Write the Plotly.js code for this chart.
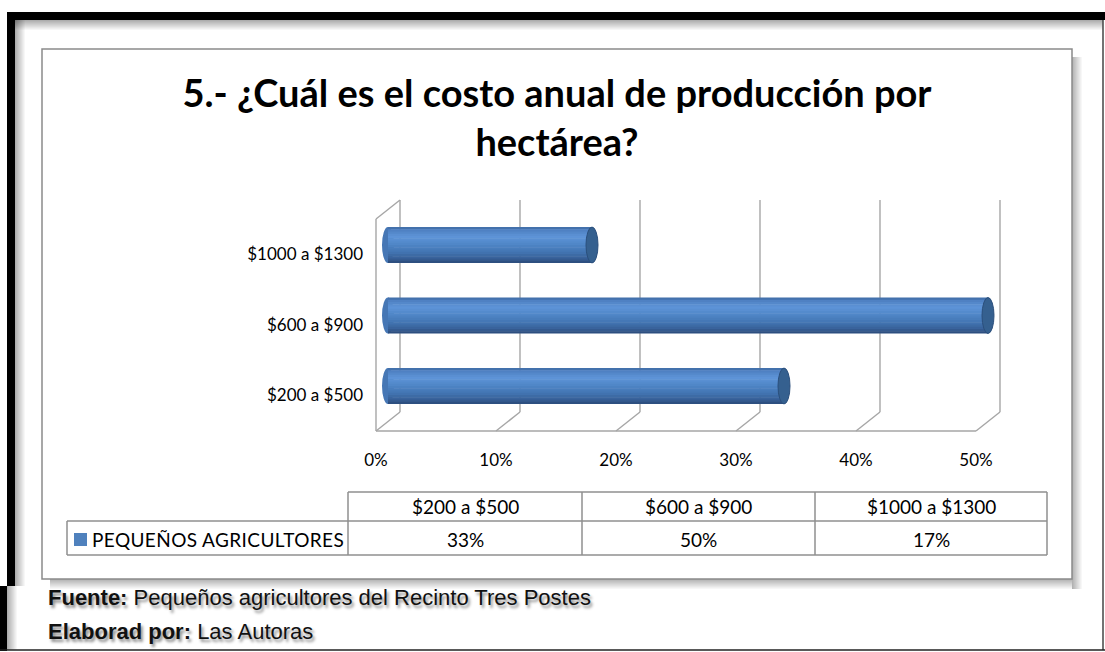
<!DOCTYPE html>
<html>
<head>
<meta charset="utf-8">
<script src="https://cdn.plot.ly/plotly-3.0.1.min.js"></script>
<style>html,body{margin:0;padding:0;background:#fff;}#chart{width:1105px;height:652px;}</style>
</head>
<body>
<div id="chart"></div>
<script>
// ---- data ----
const categories = ['$200 a $500', '$600 a $900', '$1000 a $1300'];
const seriesName = 'PEQUEÑOS AGRICULTORES';
const values = [33, 50, 17];
const xTickVals = [0, 10, 20, 30, 40, 50];
const xTickText = ['0%', '10%', '20%', '30%', '40%', '50%'];
const titleText = '5.- ¿Cuál es el costo anual de producción por<br>hectárea?';
const sourceText = '<b>Fuente:</b> Pequeños agricultores del Recinto Tres Postes';
const authorText = '<b>Elaborad por:</b> Las Autoras';

// ---- layout helpers ----
const W = 1105, H = 652;
const px = x => x / W;
const py = y => 1 - y / H;
const CAL = 'Lato, "Open Sans", sans-serif';
const ARIAL = '"Liberation Sans", Arial, sans-serif';
const GRID = '#a6a6a6';
const BACK_TOP = 200, BACK_BOT = 412, DX = 24, DY = 19;

// cylinder shading: colour stops across the bar thickness (0 = top edge, 1 = bottom edge)
const BAR_W = 0.51;
const stops = [
  [0.00, [59, 101, 156]],
  [0.07, [77, 127, 192]],
  [0.27, [94, 148, 216]],
  [0.47, [80, 135, 200]],
  [0.70, [66, 116, 178]],
  [0.88, [55, 95, 150]],
  [1.00, [42, 74, 120]]
];
function shade(f) {
  for (let k = 1; k < stops.length; k++) {
    if (f <= stops[k][0]) {
      const [f0, c0] = stops[k - 1], [f1, c1] = stops[k];
      const u = (f - f0) / (f1 - f0);
      return 'rgb(' + c0.map((v, j) => Math.round(v + (c1[j] - v) * u)).join(',') + ')';
    }
  }
  return 'rgb(' + stops[stops.length - 1][1].join(',') + ')';
}
const NB = 16;
const traces = [];
for (let b = 0; b < NB; b++) {
  const fTop = b / NB, fMid = (b + 0.5) / NB;
  const top = BAR_W / 2 - fTop * BAR_W;
  const h = BAR_W / NB + (b < NB - 1 ? 0.006 : 0);
  traces.push({
    type: 'bar', orientation: 'h',
    x: values, y: categories,
    xaxis: 'x2', yaxis: 'y2',
    width: h, offset: top - h,
    marker: {color: shade(fMid), line: {width: 0}},
    showlegend: false, hoverinfo: 'skip'
  });
}

const shapes = [];
function rectPx(x0, y0, x1, y1, fill, opts) {
  shapes.push(Object.assign({type: 'rect', xref: 'paper', yref: 'paper',
    x0: px(x0), x1: px(x1), y0: py(y0), y1: py(y1),
    fillcolor: fill, line: {width: 0}, layer: 'below'}, opts || {}));
}
function linePx(x0, y0, x1, y1, color, width, layer) {
  shapes.push({type: 'line', xref: 'paper', yref: 'paper',
    x0: px(x0), x1: px(x1), y0: py(y0), y1: py(y1),
    line: {color: color, width: width}, layer: layer || 'above'});
}

// outer frame inner shadows
for (let k = 0; k < 10; k++) {
  const a = 0.32 * (1 - k / 10);
  rectPx(15, 20 + k, 1103, 21 + k, 'rgba(0,0,0,' + a.toFixed(3) + ')');
  rectPx(15 + k, 20, 16 + k, 586, 'rgba(0,0,0,' + a.toFixed(3) + ')');
  rectPx(7 + k, 586, 8 + k, 650, 'rgba(0,0,0,' + a.toFixed(3) + ')');
}
// outer frame
rectPx(7, 12, 1105, 20, '#000');
rectPx(7, 12, 15, 586, '#000');
rectPx(0, 586, 7, 651, '#000');
linePx(1103, 20, 1103, 650, '#444', 1.5, 'below');
linePx(0, 650, 1105, 650, '#222', 1.5, 'below');

// chart box shadow + box
for (let k = 0; k < 10; k++) {
  const a = 0.30 * (1 - k / 10);
  rectPx(1072 + k, 57, 1073 + k, 589, 'rgba(0,0,0,' + a.toFixed(3) + ')');
  rectPx(50, 579 + k, 1072, 580 + k, 'rgba(0,0,0,' + a.toFixed(3) + ')');
}
rectPx(42, 49, 1072, 579, '#fff', {line: {color: '#8a8a8a', width: 1.5}});

// 3D walls: back wall verticals and floor diagonals (built from the tick values)
xTickVals.forEach(t => {
  shapes.push({type: 'line', xref: 'x', yref: 'paper', x0: t, x1: t,
    y0: py(BACK_BOT), y1: py(BACK_TOP),
    line: {color: GRID, width: 1.4}, layer: 'below'});
  shapes.push({type: 'line', xref: 'x', yref: 'paper',
    xsizemode: 'pixel', xanchor: t, x0: 0, x1: -DX,
    y0: py(BACK_BOT), y1: py(BACK_BOT + DY),
    line: {color: GRID, width: 1.4}, layer: 'below'});
});
// left wall: top edge and front edge
shapes.push({type: 'line', xref: 'x', yref: 'paper',
  xsizemode: 'pixel', xanchor: xTickVals[0], x0: 0, x1: -DX,
  y0: py(BACK_TOP), y1: py(BACK_TOP + DY),
  line: {color: GRID, width: 1.4}, layer: 'below'});
shapes.push({type: 'line', xref: 'x', yref: 'paper',
  xsizemode: 'pixel', xanchor: xTickVals[0], x0: -DX, x1: -DX,
  y0: py(BACK_BOT + DY), y1: py(BACK_TOP + DY),
  line: {color: GRID, width: 1.4}, layer: 'below'});
// front floor edge
shapes.push({type: 'line', xref: 'x3', yref: 'paper',
  x0: xTickVals[0], x1: xTickVals[xTickVals.length - 1],
  y0: py(BACK_BOT + DY), y1: py(BACK_BOT + DY),
  line: {color: GRID, width: 1.6}, layer: 'below'});

// cylinder ends
values.forEach((v, i) => {
  shapes.push({type: 'circle', xref: 'x2', yref: 'y2',
    xsizemode: 'pixel', xanchor: 0, x0: -6, x1: 6,
    y0: i - BAR_W / 2, y1: i + BAR_W / 2,
    fillcolor: '#4677b5', line: {width: 0}, layer: 'below'});
  shapes.push({type: 'circle', xref: 'x2', yref: 'y2',
    xsizemode: 'pixel', xanchor: v, x0: -6, x1: 6,
    y0: i - BAR_W / 2, y1: i + BAR_W / 2,
    fillcolor: '#35608f', line: {color: '#2b4f7c', width: 1}, layer: 'above'});
});

// data table
const colX = [348, 582, 815, 1047];
const tblLeft = 67, rowTop = 492, rowMid = 521, rowBot = 555;
const TBL = '#8f8f8f';
linePx(colX[0], rowTop, colX[3], rowTop, TBL, 1.5);
linePx(tblLeft, rowMid, colX[3], rowMid, TBL, 1.5);
linePx(tblLeft, rowBot, colX[3], rowBot, TBL, 1.5);
linePx(tblLeft, rowMid, tblLeft, rowBot, TBL, 1.5);
colX.forEach(x => linePx(x, rowTop, x, rowBot, TBL, 1.5));
// legend key
shapes.push({type: 'rect', xref: 'paper', yref: 'paper',
  x0: px(74), x1: px(87), y0: py(546), y1: py(533),
  fillcolor: '#4f81bd', line: {width: 0}});

const annotations = [];
const TFONT = {family: CAL, size: 19, color: '#000'};
categories.forEach((c, i) => {
  const cx = (colX[i] + colX[i + 1]) / 2;
  annotations.push({xref: 'paper', yref: 'paper', x: px(cx), y: py(507), text: c,
    showarrow: false, xanchor: 'center', yanchor: 'middle', font: TFONT});
  annotations.push({xref: 'paper', yref: 'paper', x: px(cx), y: py(539), text: values[i] + '%',
    showarrow: false, xanchor: 'center', yanchor: 'middle', font: TFONT});
});
annotations.push({xref: 'paper', yref: 'paper', x: px(90), y: py(539),
  text: '<span style="letter-spacing:0.4px">' + seriesName + '</span>',
  showarrow: false, xanchor: 'left', yanchor: 'middle', font: TFONT});

// footnotes
[[sourceText, 597], [authorText, 631]].forEach(([t, y]) => {
  annotations.push({xref: 'paper', yref: 'paper', x: px(46), y: py(y), text: t,
    showarrow: false, xanchor: 'left', yanchor: 'middle',
    font: {family: ARIAL, size: 22, color: '#111', shadow: '2px 3px 3px rgba(0,0,0,0.45)'}});
});

const hidden = {showgrid: false, zeroline: false, showline: false, showticklabels: false, ticks: '', fixedrange: true};

const layout = {
  width: W, height: H, autosize: false,
  margin: {l: 0, r: 0, t: 0, b: 0, pad: 0},
  paper_bgcolor: '#fff', plot_bgcolor: 'rgba(0,0,0,0)',
  showlegend: false, barmode: 'overlay',
  title: {text: titleText, x: px(557), xanchor: 'center', xref: 'paper',
    y: py(107), yanchor: 'top', yref: 'container',
    font: {family: CAL, size: 38, weight: 'bold', color: '#000'}},
  // back wall axis (12 px per 1%)
  xaxis: Object.assign({}, hidden, {domain: [px(370), px(1006)], range: [-2.5, 50.5], anchor: 'y'}),
  yaxis: Object.assign({}, hidden, {domain: [py(BACK_BOT), py(BACK_TOP)], range: [0, 1], anchor: 'x'}),
  // bar (mid-depth) axis
  xaxis2: Object.assign({}, hidden, {domain: [px(376), px(1000)], range: [-1, 51], anchor: 'y2'}),
  yaxis2: Object.assign({}, hidden, {domain: [py(421.25), py(209.75)], range: [-0.5, 2.5], anchor: 'x2',
    type: 'category', categoryorder: 'array', categoryarray: categories}),
  // front plane axis carrying the labels
  xaxis3: Object.assign({}, hidden, {domain: [px(376), px(976)], range: [0, 50], anchor: 'y3',
    showticklabels: true, tickmode: 'array', tickvals: xTickVals, ticktext: xTickText,
    ticklen: 0, ticklabelstandoff: 17, tickfont: {family: CAL, size: 17, color: '#000'}}),
  yaxis3: Object.assign({}, hidden, {domain: [py(430.75), py(219.25)], range: [-0.5, 2.5], anchor: 'x3',
    showticklabels: true, tickmode: 'array', tickvals: categories.map((c, i) => i), ticktext: categories,
    ticklen: 0, ticklabelstandoff: 12, tickfont: {family: CAL, size: 17, color: '#000'}}),
  shapes: shapes,
  annotations: annotations
};

Plotly.newPlot('chart', traces, layout, {staticPlot: true, displayModeBar: false});
</script>
</body>
</html>
